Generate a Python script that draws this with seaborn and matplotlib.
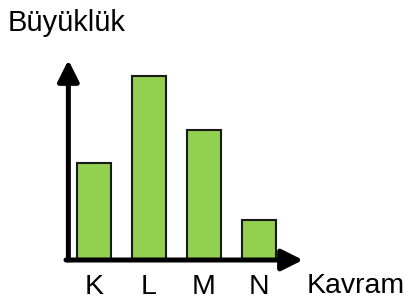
import matplotlib
matplotlib.use("Agg")
import matplotlib.pyplot as plt
import seaborn as sns

# values (relative heights)
categories = ["K", "L", "M", "N"]
values = [2.4, 4.5, 3.2, 1.0]

y_label = "Büyüklük"
x_label = "Kavram"

sns.set_style("white")
plt.rcParams["font.family"] = ["Liberation Sans", "DejaVu Sans"]
plt.rcParams["text.color"] = "black"
plt.rcParams["xtick.color"] = "black"

fig = plt.figure(figsize=(4.08, 3.00), dpi=100)
ax = fig.add_axes([66 / 408, 39 / 300, 237 / 408, 201 / 300])

sns.barplot(x=categories, y=values, color="#92D050", saturation=1,
            edgecolor="#1a1a1a", linewidth=1.5, width=0.62, ax=ax)

ax.set_xlim(-0.51, 3.8)
ax.set_ylim(0, 4.9)

# axes drawn as thick arrows
for s in ax.spines.values():
    s.set_visible(False)
arrow = dict(arrowstyle="-|>", lw=3.6, color="black", mutation_scale=32,
             shrinkA=0, shrinkB=0)
ax.annotate("", xy=(0.01, 1), xytext=(0.01, 0.005), xycoords="axes fraction",
            arrowprops=arrow)
ax.annotate("", xy=(1, 0.005), xytext=(0.0, 0.005), xycoords="axes fraction",
            arrowprops=arrow)

ax.set_yticks([])
ax.set_xticks(range(len(categories)))
ax.set_xticklabels(categories, fontsize=20.5, color="black")
ax.tick_params(axis="x", length=0, pad=9)
ax.set_xlabel("")
ax.set_ylabel("")

fig.text(8 / 408, 1 - 9 / 300, y_label, fontsize=21, va="top", ha="left")
fig.text(307 / 408, 1 - 293 / 300, x_label, fontsize=20.5, va="baseline", ha="left")

fig.savefig("out.png", dpi=100)
